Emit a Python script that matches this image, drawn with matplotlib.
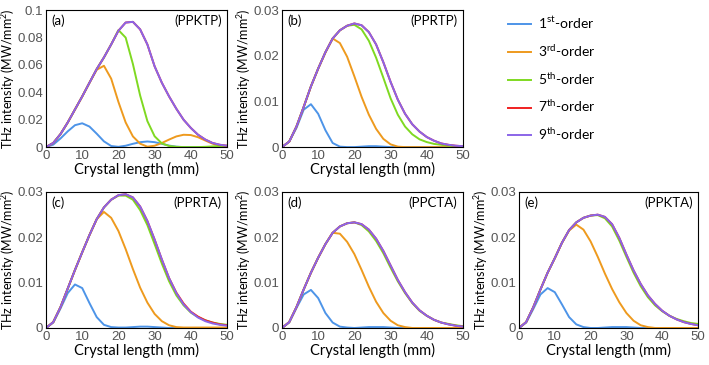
import matplotlib
matplotlib.use("Agg")
import matplotlib.pyplot as plt

plt.rcParams['mathtext.fontset'] = 'custom'
plt.rcParams['mathtext.rm'] = 'Lato'

# crystal length grid (mm)
x = [0, 2, 4, 6, 8, 10, 12, 14, 16, 18, 20, 22, 24, 26, 28, 30, 32, 34, 36, 38, 40, 42, 44, 46, 48, 50]

# (a) PPKTP
a1 = [0, 0.0018, 0.0063, 0.0115, 0.016, 0.0174, 0.015, 0.0098, 0.0042, 0.0008, 0.0002, 0.001, 0.0024, 0.0036, 0.0041,
      0.0036, 0.0024, 0.0011, 0.0003, 0, 0, 0, 0, 0, 0, 0]
a3 = [0, 0.003, 0.0095, 0.018, 0.0275, 0.037, 0.047, 0.0565, 0.0594, 0.050, 0.033, 0.018, 0.0078, 0.0025, 0.0003,
      0.001, 0.003, 0.0055, 0.0078, 0.009, 0.0088, 0.0072, 0.0048, 0.0025, 0.001, 0.0004]
a5 = [0, 0.003, 0.0095, 0.018, 0.0275, 0.037, 0.047, 0.057, 0.0655, 0.075, 0.0855, 0.080, 0.0607, 0.0377, 0.019,
      0.0079, 0.0027, 0.0008, 0.0002, 0, 0, 0, 0.0002, 0.0005, 0.0008, 0.001]
a7 = [0, 0.003, 0.0095, 0.018, 0.0275, 0.037, 0.047, 0.057, 0.0655, 0.075, 0.085, 0.091, 0.0915, 0.086, 0.075, 0.059,
      0.047, 0.037, 0.028, 0.020, 0.014, 0.009, 0.0055, 0.003, 0.0017, 0.001]
a9 = [0, 0.003, 0.0095, 0.018, 0.0275, 0.037, 0.047, 0.057, 0.0655, 0.075, 0.085, 0.091, 0.0915, 0.086, 0.075, 0.059,
      0.047, 0.037, 0.028, 0.020, 0.014, 0.009, 0.0055, 0.003, 0.0017, 0.001]

# (b) PPRTP
b1 = [0, 0.0012, 0.0042, 0.0082, 0.0094, 0.0073, 0.0037, 0.0009, 0.0001, 0, 0, 0.0001, 0.0002, 0.0002, 0.0001, 0,
      0, 0, 0, 0, 0, 0, 0, 0, 0, 0]
b3 = [0, 0.0012, 0.0045, 0.0088, 0.0133, 0.0172, 0.0207, 0.0238, 0.0228, 0.0198, 0.0155, 0.011, 0.0071, 0.004,
      0.0018, 0.0006, 0.0001, 0, 0, 0, 0, 0, 0, 0, 0, 0]
b5 = [0, 0.0012, 0.0045, 0.0088, 0.0133, 0.0172, 0.0208, 0.0238, 0.0256, 0.0266, 0.0268, 0.0258, 0.0233, 0.0196,
      0.0152, 0.0107, 0.0071, 0.0045, 0.0028, 0.0017, 0.0011, 0.0007, 0.0005, 0.0003, 0.0002, 0.0002]
b7 = [0, 0.0012, 0.0045, 0.0088, 0.0133, 0.0172, 0.0208, 0.0238, 0.0256, 0.0266, 0.0271, 0.0267, 0.0252, 0.0225,
      0.0186, 0.0143, 0.0104, 0.0073, 0.005, 0.0034, 0.0022, 0.0014, 0.0008, 0.0005, 0.0003, 0.0002]
b9 = [0, 0.0012, 0.0045, 0.0088, 0.0133, 0.0172, 0.0208, 0.0238, 0.0256, 0.0266, 0.0271, 0.0267, 0.0252, 0.0225,
      0.0186, 0.0143, 0.0104, 0.0073, 0.005, 0.0034, 0.0022, 0.0014, 0.0008, 0.0005, 0.0003, 0.0002]

# (c) PPRTA
c1 = [0, 0.0012, 0.0043, 0.0077, 0.0096, 0.0088, 0.0055, 0.0024, 0.0007, 0.0002, 0.0001, 0.0001, 0.0002, 0.0003,
      0.0003, 0.0002, 0.0001, 0, 0, 0, 0, 0, 0, 0, 0, 0]
c3 = [0, 0.0013, 0.0046, 0.0087, 0.0128, 0.0167, 0.0205, 0.024, 0.0256, 0.0243, 0.0214, 0.0174, 0.013, 0.0089,
      0.0056, 0.0031, 0.0015, 0.0006, 0.0002, 0.0001, 0.0001, 0.0001, 0.0001, 0.0001, 0.0001, 0.0001]
c5 = [0, 0.0013, 0.0046, 0.0087, 0.0128, 0.0167, 0.0205, 0.024, 0.0266, 0.0283, 0.0292, 0.0292, 0.0283, 0.026,
      0.0227, 0.0185, 0.0142, 0.0103, 0.0072, 0.005, 0.0034, 0.0024, 0.0017, 0.0012, 0.0009, 0.0007]
c7 = [0, 0.0013, 0.0046, 0.0087, 0.0128, 0.0167, 0.0205, 0.024, 0.0266, 0.0283, 0.0293, 0.0295, 0.0288, 0.0268,
      0.0236, 0.0195, 0.0151, 0.011, 0.0078, 0.0054, 0.0036, 0.0025, 0.0017, 0.0012, 0.0008, 0.0006]
c9 = [0, 0.0013, 0.0046, 0.0087, 0.0128, 0.0167, 0.0205, 0.024, 0.0266, 0.0283, 0.0293, 0.0295, 0.0288, 0.0268,
      0.0236, 0.0195, 0.0151, 0.011, 0.0077, 0.0052, 0.0035, 0.0023, 0.0015, 0.001, 0.0007, 0.0005]

# (d) PPCTA
d1 = [0, 0.0012, 0.0044, 0.0074, 0.0084, 0.0066, 0.0033, 0.0012, 0.0003, 0.0001, 0, 0.0001, 0.0002, 0.0002, 0.0002,
      0.0001, 0, 0, 0, 0, 0, 0, 0, 0, 0, 0]
d3 = [0, 0.0013, 0.0046, 0.0085, 0.0122, 0.0155, 0.0185, 0.021, 0.0208, 0.019, 0.0163, 0.0128, 0.0091, 0.0058,
      0.0033, 0.0016, 0.0006, 0.0002, 0, 0, 0, 0, 0, 0, 0, 0]
d5 = [0, 0.0013, 0.0046, 0.0085, 0.0122, 0.0155, 0.0185, 0.021, 0.0224, 0.0231, 0.0233, 0.0227, 0.0213, 0.0192,
      0.0165, 0.0133, 0.0103, 0.0077, 0.0055, 0.0038, 0.0027, 0.0018, 0.0012, 0.0009, 0.0006, 0.0004]
d7 = [0, 0.0013, 0.0046, 0.0085, 0.0122, 0.0155, 0.0185, 0.021, 0.0224, 0.0231, 0.0233, 0.0229, 0.0217, 0.0197,
      0.017, 0.0138, 0.0106, 0.0079, 0.0056, 0.0039, 0.0027, 0.0018, 0.0012, 0.0008, 0.0005, 0.0003]
d9 = [0, 0.0013, 0.0046, 0.0085, 0.0122, 0.0155, 0.0185, 0.021, 0.0224, 0.0231, 0.0233, 0.0229, 0.0217, 0.0197,
      0.017, 0.0138, 0.0106, 0.0079, 0.0056, 0.0039, 0.0027, 0.0018, 0.0012, 0.0008, 0.0005, 0.0003]

# (e) PPKTA
e1 = [0, 0.0012, 0.0042, 0.0074, 0.0088, 0.0079, 0.0052, 0.0024, 0.0008, 0.0002, 0, 0, 0.0001, 0.0002, 0.0002,
      0.0002, 0.0001, 0, 0, 0, 0, 0, 0, 0, 0, 0]
e3 = [0, 0.0013, 0.0046, 0.0085, 0.0122, 0.0154, 0.0188, 0.0215, 0.0228, 0.0217, 0.0191, 0.0157, 0.012, 0.0086,
      0.0057, 0.0033, 0.0016, 0.0006, 0.0002, 0, 0, 0, 0, 0, 0, 0]
e5 = [0, 0.0013, 0.0046, 0.0085, 0.0122, 0.0154, 0.0188, 0.0216, 0.0233, 0.0243, 0.0248, 0.0249, 0.0242, 0.0224,
      0.0193, 0.0157, 0.0122, 0.0092, 0.0068, 0.005, 0.0037, 0.0027, 0.002, 0.0015, 0.0011, 0.0009]
e7 = [0, 0.0013, 0.0046, 0.0085, 0.0122, 0.0154, 0.0188, 0.0216, 0.0233, 0.0243, 0.0248, 0.025, 0.0245, 0.0229,
      0.0199, 0.0162, 0.0127, 0.0097, 0.0072, 0.0053, 0.0038, 0.0027, 0.0019, 0.0013, 0.0009, 0.0006]
e9 = [0, 0.0013, 0.0046, 0.0085, 0.0122, 0.0154, 0.0188, 0.0216, 0.0233, 0.0243, 0.0248, 0.025, 0.0245, 0.0229,
      0.0199, 0.0162, 0.0127, 0.0097, 0.0072, 0.0053, 0.0038, 0.0027, 0.0019, 0.0013, 0.0009, 0.0006]

orders = ['1$^{\\rm st}$-order', '3$^{\\rm rd}$-order', '5$^{\\rm th}$-order', '7$^{\\rm th}$-order', '9$^{\\rm th}$-order']
colors = ['#4d94e8', '#ee9a1e', '#7fd921', '#f02020', '#8b65e8']

panels = [
    ('(a)', '(PPKTP)', [a1, a3, a5, a7, a9], 0.1, [0, 0.02, 0.04, 0.06, 0.08, 0.1], ['0', '0.02', '0.04', '0.06', '0.08', '0.1']),
    ('(b)', '(PPRTP)', [b1, b3, b5, b7, b9], 0.03, [0, 0.01, 0.02, 0.03], ['0', '0.01', '0.02', '0.03']),
    ('(c)', '(PPRTA)', [c1, c3, c5, c7, c9], 0.03, [0, 0.01, 0.02, 0.03], ['0', '0.01', '0.02', '0.03']),
    ('(d)', '(PPCTA)', [d1, d3, d5, d7, d9], 0.03, [0, 0.01, 0.02, 0.03], ['0', '0.01', '0.02', '0.03']),
    ('(e)', '(PPKTA)', [e1, e3, e5, e7, e9], 0.03, [0, 0.01, 0.02, 0.03], ['0', '0.01', '0.02', '0.03']),
]

# axes rectangles in figure fraction
rects = [
    [0.0649, 0.597, 0.2553, 0.375],
    [0.3977, 0.597, 0.2553, 0.375],
    [0.0649, 0.1014, 0.2553, 0.3726],
    [0.3977, 0.1014, 0.2553, 0.3726],
    [0.732, 0.1014, 0.2525, 0.3726],
]

fig = plt.figure(figsize=(7.09, 3.65), dpi=100)

lines = []
for rect, (tag, name, ys, ymax, yt, ytl) in zip(rects, panels):
    ax = fig.add_axes(rect)
    lines = []
    for y, c, lab in zip(ys, colors, orders):
        ln, = ax.plot(x, y, color=c, lw=1.4, label=lab, solid_joinstyle='round')
        lines.append(ln)
    ax.set_xlim(0, 50)
    ax.set_ylim(0, ymax)
    ax.set_xticks([0, 10, 20, 30, 40, 50])
    ax.set_yticks(yt)
    ax.set_yticklabels(ytl)
    ax.tick_params(direction='in', length=0, labelsize=9.5, labelcolor='#555555', pad=2)
    for lbl in ax.get_xticklabels() + ax.get_yticklabels():
        lbl.set_family('Liberation Sans')
    ax.set_xlabel('Crystal length (mm)', fontsize=10.5, family='Lato', labelpad=0)
    ax.set_ylabel('THz intensity (MW/mm$^2$)', fontsize=9, family='Lato', labelpad=0)
    ax.text(0.03, 0.97, tag, transform=ax.transAxes, ha='left', va='top', fontsize=9.5, family='Lato')
    ax.text(0.97, 0.97, name, transform=ax.transAxes, ha='right', va='top', fontsize=9.5, family='Lato')
    for s in ax.spines.values():
        s.set_linewidth(0.8)

fig.legend(handles=lines, labels=orders, loc='upper left', bbox_to_anchor=(0.699, 0.993),
           frameon=False, handlelength=1.65, handletextpad=0.5, labelspacing=0.8,
           prop={'family': 'Lato', 'size': 10})

fig.savefig('out.png', dpi=100)
